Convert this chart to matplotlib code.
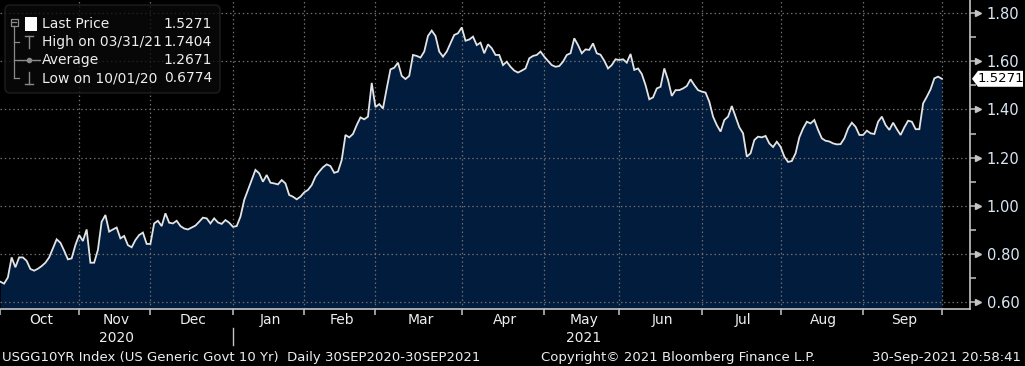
import numpy as np
import pandas as pd
import matplotlib
matplotlib.use("Agg")
import matplotlib.pyplot as plt
from matplotlib.patches import FancyBboxPatch, Polygon, Rectangle

plt.rcParams['font.family'] = ['DejaVu Sans']

# ---------------- data ----------------
holidays = ["2020-10-12", "2020-11-11", "2020-11-26", "2020-12-25", "2021-01-01",
            "2021-01-18", "2021-02-15", "2021-05-31", "2021-07-05", "2021-09-06"]
dates = pd.bdate_range("2020-09-30", "2021-09-30", freq="C", holidays=holidays)

yields = [
    0.685, 0.6774, 0.703, 0.786, 0.745, 0.786, 0.786, 0.772, 0.738, 0.731,
    0.739, 0.750, 0.764, 0.786, 0.823, 0.861, 0.847, 0.814, 0.778, 0.782,
    0.837, 0.879, 0.854, 0.902, 0.764, 0.764, 0.817, 0.934, 0.962, 0.893,
    0.902, 0.910, 0.865, 0.875, 0.837, 0.828, 0.858, 0.879, 0.889, 0.842,
    0.842, 0.927, 0.938, 0.916, 0.969, 0.930, 0.927, 0.938, 0.916, 0.906,
    0.902, 0.910, 0.918, 0.934, 0.951, 0.948, 0.927, 0.948, 0.931, 0.925,
    0.941, 0.930, 0.913, 0.916, 0.955, 1.024, 1.066, 1.107, 1.149, 1.135,
    1.100, 1.128, 1.096, 1.093, 1.089, 1.107, 1.093, 1.045, 1.038, 1.027,
    1.038, 1.056, 1.066, 1.086, 1.121, 1.142, 1.160, 1.172, 1.165, 1.137,
    1.142, 1.190, 1.294, 1.284, 1.298, 1.335, 1.367, 1.359, 1.370, 1.510,
    1.410, 1.422, 1.404, 1.487, 1.566, 1.573, 1.594, 1.539, 1.526, 1.539,
    1.626, 1.622, 1.615, 1.640, 1.705, 1.727, 1.705, 1.640, 1.619, 1.640,
    1.674, 1.709, 1.716, 1.7404, 1.685, 1.690, 1.702, 1.667, 1.677, 1.633,
    1.670, 1.654, 1.626, 1.626, 1.584, 1.598, 1.577, 1.561, 1.553, 1.561,
    1.570, 1.612, 1.622, 1.626, 1.640, 1.619, 1.601, 1.584, 1.577, 1.580,
    1.598, 1.626, 1.633, 1.695, 1.667, 1.633, 1.649, 1.647, 1.674, 1.633,
    1.627, 1.602, 1.570, 1.584, 1.608, 1.605, 1.608, 1.594, 1.630, 1.564,
    1.570, 1.547, 1.501, 1.442, 1.450, 1.487, 1.494, 1.570, 1.522, 1.456,
    1.480, 1.480, 1.487, 1.497, 1.525, 1.501, 1.480, 1.474, 1.470, 1.432,
    1.370, 1.335, 1.308, 1.356, 1.370, 1.414, 1.370, 1.326, 1.301, 1.204,
    1.218, 1.273, 1.287, 1.284, 1.290, 1.259, 1.244, 1.266, 1.245, 1.204,
    1.182, 1.186, 1.218, 1.284, 1.321, 1.349, 1.342, 1.356, 1.315, 1.280,
    1.270, 1.267, 1.259, 1.255, 1.256, 1.280, 1.321, 1.345, 1.328, 1.294,
    1.294, 1.312, 1.301, 1.298, 1.349, 1.370, 1.335, 1.315, 1.345, 1.318,
    1.294, 1.326, 1.353, 1.349, 1.318, 1.318, 1.425, 1.453, 1.484, 1.529,
    1.536, 1.5271,
]
assert len(yields) == len(dates)

y_ticks = [0.60, 0.80, 1.00, 1.20, 1.40, 1.60, 1.80]
y_minor = [0.70, 0.90, 1.10, 1.30, 1.50, 1.70]
month_labels = ["Oct", "Nov", "Dec", "Jan", "Feb", "Mar", "Apr", "May", "Jun", "Jul", "Aug", "Sep"]
year_labels = {"2020": "Nov", "2021": "May"}

legend_names = ["Last Price", "High on 03/31/21", "Average", "Low on 10/01/20"]
legend_values = ["1.5271", "1.7404", "1.2671", "0.6774"]
last_price_label = "1.5271"

footer_left = "USGG10YR Index (US Generic Govt 10 Yr)  Daily 30SEP2020-30SEP2021"
footer_mid = "Copyright\u00a9 2021 Bloomberg Finance L.P."
footer_right = "30-Sep-2021 20:58:41"

# ---------------- styling ----------------
W, H = 1025, 366
BG = "black"
NAVY = "#011c3c"
LINE = "#e4e4e4"
GRID = "#6e6e6e"
AXC = "#c4c4c4"
LBL = "#d9e7f5"
TXT = "#eeeeee"

fig = plt.figure(figsize=(W / 100, H / 100), dpi=100, facecolor=BG)
ax_right_px, ax_bot_px = 970, 309
ax = fig.add_axes([0, 1 - ax_bot_px / H, ax_right_px / W, ax_bot_px / H])
ax.set_facecolor(BG)

idx = np.arange(len(yields))
y = np.array(yields)
ylo, yhi = 0.572, 1.854
ax.set_ylim(ylo, yhi)
ax.set_xlim(-0.1, 258.5)

ax.fill_between(idx, y, ylo, color=NAVY, lw=0, zorder=1)
ax.plot(idx, y, color=LINE, lw=1.3, zorder=3, solid_joinstyle="miter")

# month structure
s = pd.Series(idx, index=dates)
month_groups = s.groupby([dates.year, dates.month])
start = pd.Timestamp("2020-10-01")
month_ends = [0] + [g.iloc[-1] for _, g in month_groups if g.index[0] >= start]
month_centers = [(g.iloc[0] + g.iloc[-1]) / 2 for _, g in month_groups if g.index[0] >= start]

# grid
for v in y_ticks:
    ax.axhline(v, color=GRID, lw=0.9, ls=(0, (1.2, 2.2)), zorder=2)
for m in month_ends[1:]:
    ax.axvline(m, color=GRID, lw=0.9, ls=(0, (1.2, 2.2)), zorder=2)

# spines
for sp in ["left", "top"]:
    ax.spines[sp].set_visible(False)
for sp in ["right", "bottom"]:
    ax.spines[sp].set_color(AXC)
    ax.spines[sp].set_linewidth(1.2)

# y axis on the right
ax.yaxis.tick_right()
ax.set_yticks(y_ticks)
ax.set_yticks(y_minor, minor=True)
ax.set_yticklabels([f"{v:.2f}" for v in y_ticks])
ax.tick_params(axis="y", which="major", length=7, width=1.1, color=AXC,
               labelcolor=LBL, labelsize=10.5, pad=5)
ax.tick_params(axis="y", which="minor", length=4, width=1.1, color=AXC)
ytr = ax.get_yaxis_transform()
ax.plot([1 + 7.5 / ax_right_px] * len(y_ticks), y_ticks, marker=">", ms=4.5,
        color=AXC, ls="none", transform=ytr, clip_on=False, zorder=5)

# x axis
ax.set_xticks(month_ends)
ax.set_xticklabels([])
ax.tick_params(axis="x", which="major", length=4, width=1.1, color=AXC, direction="out")
xtr = ax.get_xaxis_transform()
for lab, c in zip(month_labels, month_centers):
    ax.text(c, -11 / ax_bot_px, lab, transform=xtr, ha="center", va="center",
            color=TXT, fontsize=10, clip_on=False)
for yr, mon in year_labels.items():
    c = month_centers[month_labels.index(mon)]
    ax.text(c, -29 / ax_bot_px, yr, transform=xtr, ha="center", va="center",
            color=TXT, fontsize=10, clip_on=False)
jan_b = month_ends[month_labels.index("Jan")]
ax.plot([jan_b, jan_b], [-19 / ax_bot_px, -36 / ax_bot_px], color=AXC, lw=1,
        transform=xtr, clip_on=False)

# footer
fy = 1 - 357 / H
fig.text(2 / W, fy, footer_left, color=TXT, fontsize=9.5, ha="left", va="center")
fig.text(541 / W, fy, footer_mid, color=TXT, fontsize=9.5, ha="left", va="center")
fig.text(1021 / W, fy, footer_right, color=TXT, fontsize=9.5, ha="right", va="center")

# overlay in pixel coordinates for legend and price tag
ov = fig.add_axes([0, 0, 1, 1], zorder=10)
ov.set_xlim(0, W)
ov.set_ylim(H, 0)
ov.axis("off")
ov.patch.set_alpha(0)

ov.add_patch(FancyBboxPatch((5, 5), 215, 88, boxstyle="round,pad=0,rounding_size=5",
                            facecolor="#0a0a0a", edgecolor="#262626", lw=1.0, alpha=0.78))
rows = [24, 42, 60, 78]
for name, val, ry in zip(legend_names, legend_values, rows):
    ov.text(42, ry, name, color=TXT, fontsize=10, ha="left", va="center")
    ov.text(212, ry, val, color=TXT, fontsize=10, ha="right", va="center")
TREE = "#8a8a8a"
ov.add_patch(Rectangle((10.5, 18.5), 7, 7, facecolor="none", edgecolor=TREE, lw=0.9))
ov.plot([12, 16], [22, 22], color=TREE, lw=0.9)
ov.plot([14, 14], [25.5, 78], color=TREE, lw=0.9)
for ry in rows[1:]:
    ov.plot([14, 19], [ry, ry], color=TREE, lw=0.9)
ov.add_patch(Rectangle((25, 17), 12, 14, facecolor="white", edgecolor="none"))
# High icon
ov.plot([28.5, 28.5], [36, 48], color=TREE, lw=1.0)
ov.plot([24.5, 32.5], [36, 36], color=TREE, lw=1.0)
# Average icon
ov.plot([19, 40], [60, 60], color=TREE, lw=1.0)
ov.plot([28.5], [60], marker="o", ms=3, color=TREE)
# Low icon
ov.plot([28.5, 28.5], [72, 84], color=TREE, lw=1.0)
ov.plot([24.5, 32.5], [84, 84], color=TREE, lw=1.0)

# last price tag
disp = ax.transData.transform((0, yields[-1]))
ty = H - disp[1]
ov.add_patch(Polygon([(972, ty), (978, ty - 8), (1023, ty - 8), (1023, ty + 8), (978, ty + 8)],
                     closed=True, facecolor="white", edgecolor="none"))
ov.text(1001, ty, last_price_label, color="black", fontsize=9.5, ha="center", va="center")

fig.savefig("out.png", dpi=100, facecolor=BG)
